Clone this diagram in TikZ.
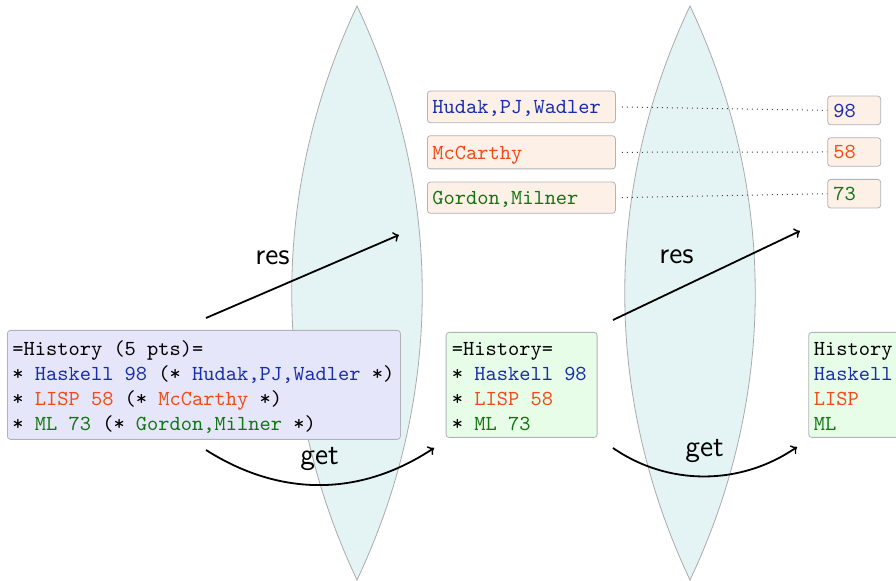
\documentclass[tikz,border=0pt]{standalone}
\usepackage{fontspec}
\definecolor{cblue}{RGB}{25,45,170}
\definecolor{cred}{RGB}{240,75,25}
\definecolor{cgreen}{RGB}{20,115,20}
\definecolor{lav}{RGB}{230,230,250}
\definecolor{honey}{RGB}{232,253,232}
\definecolor{linenc}{RGB}{253,240,230}
\definecolor{lensc}{RGB}{228,244,244}
\definecolor{lensedge}{RGB}{170,170,170}
\definecolor{edge}{RGB}{178,178,188}
\newcommand\tfont{\fontsize{10.7}{12.5}\selectfont\ttfamily}
\newcommand\lfont{\fontsize{15}{18}\selectfont\sffamily}
\begin{document}
\begin{tikzpicture}[x=0.5pt,y=-0.5pt,
  box/.style={draw=edge, line width=0.4pt, rounded corners=1.5pt, inner sep=0pt},
  tbox/.style={box, font=\tfont, align=left, inner xsep=2.5pt, inner ysep=0pt, text height=8pt, text depth=1pt},
  tline/.style={anchor=base west, inner sep=0pt, font=\tfont},
  lbl/.style={anchor=base west, inner sep=0pt, font=\lfont},
  conn/.style={->, line width=0.9pt},
  lens/.style={fill=lensc, draw=lensedge, line width=0.4pt},
  dots/.style={dotted, line width=0.5pt, draw=black!75}]
\useasboundingbox (0,0) rectangle (896,581);
\clip (0,0) rectangle (896,581);
% lenses
\draw[lens] (357,6) .. controls (270,190) and (270,396) .. (357,580) .. controls (444,396) and (444,190) .. (357,6) -- cycle;
\draw[lens] (690,6) .. controls (603,190) and (603,396) .. (690,580) .. controls (777,396) and (777,190) .. (690,6) -- cycle;
% main boxes
\node[box, fill=lav, anchor=north west, minimum width=196.5pt, minimum height=54.5pt] (hist) at (7,330) {};
\node[tline] (histt) at (12,356) {\vtop{%
  \hbox{=History (5 pts)=}%
  \hbox{* \textcolor{cblue}{Haskell 98} (* \textcolor{cblue}{Hudak,PJ,Wadler} *)}%
  \hbox{* \textcolor{cred}{LISP 58} (* \textcolor{cred}{McCarthy} *)}%
  \hbox{* \textcolor{cgreen}{ML 73} (* \textcolor{cgreen}{Gordon,Milner} *)}}};
\node[box, fill=honey, anchor=north west, minimum width=75.5pt, minimum height=52.5pt] (histb) at (445.7,332) {};
\node[tline] (histbt) at (451.5,355.5) {\vtop{%
  \hbox{=History=}%
  \hbox{* \textcolor{cblue}{Haskell 98}}%
  \hbox{* \textcolor{cred}{LISP 58}}%
  \hbox{* \textcolor{cgreen}{ML 73}}}};
\node[box, fill=honey, anchor=north west, minimum width=80pt, minimum height=52.5pt] (histc) at (808.3,332) {};
\node[tline] (histct) at (813.5,355.5) {\vtop{%
  \hbox{History}%
  \hbox{\textcolor{cblue}{Haskell}}%
  \hbox{\textcolor{cred}{LISP}}%
  \hbox{\textcolor{cgreen}{ML}}}};
% author boxes
\node[tbox, fill=linenc, anchor=north west, text width=89pt, minimum height=15.8pt, text=cblue] (au1) at (427,90.7) {Hudak,PJ,Wadler};
\node[tbox, fill=linenc, anchor=north west, text width=89pt, minimum height=16.6pt, text=cred] (au2) at (427,135.3) {McCarthy};
\node[tbox, fill=linenc, anchor=north west, text width=89pt, minimum height=15.6pt, text=cgreen] (au3) at (427,181.7) {Gordon,Milner};
% number boxes
\node[tbox, fill=linenc, anchor=north west, inner xsep=2.85pt, text width=20.8pt, minimum height=14.3pt, text=cblue] (n1) at (827.3,95.7) {98};
\node[tbox, fill=linenc, anchor=north west, inner xsep=2.85pt, text width=20.8pt, minimum height=14.3pt, text=cred] (n2) at (827.3,137.3) {58};
\node[tbox, fill=linenc, anchor=north west, inner xsep=2.85pt, text width=20.8pt, minimum height=14.3pt, text=cgreen] (n3) at (827.3,179) {73};
% dotted links
\draw[dots, shorten <=3pt] (au1.east) -- (n1.west);
\draw[dots, shorten <=3pt] (au2.east) -- (n2.west);
\draw[dots, shorten <=3pt] (au3.east) -- (n3.west);
% arrows
\coordinate (r1s) at (206,318);
\coordinate (r1e) at (399,235);
\coordinate (g1s) at (206,450);
\coordinate (g1e) at (434,448);
\coordinate (r2s) at (613,320);
\coordinate (r2e) at (800,231);
\coordinate (g2s) at (613,448);
\coordinate (g2e) at (797,447);
\draw[conn] (r1s) -- (r1e);
\draw[conn] (g1s) .. controls (280,497) and (360,497) .. (g1e);
\draw[conn] (r2s) -- (r2e);
\draw[conn] (g2s) .. controls (668,486) and (740,486) .. (g2e);
% labels
\node[lbl] (res1) at (255,265) {res};
\node[lbl] (get1) at (300,465) {get};
\node[lbl] (res2) at (659,263.5) {res};
\node[lbl] (get2) at (685,457) {get};
\end{tikzpicture}
\end{document}
